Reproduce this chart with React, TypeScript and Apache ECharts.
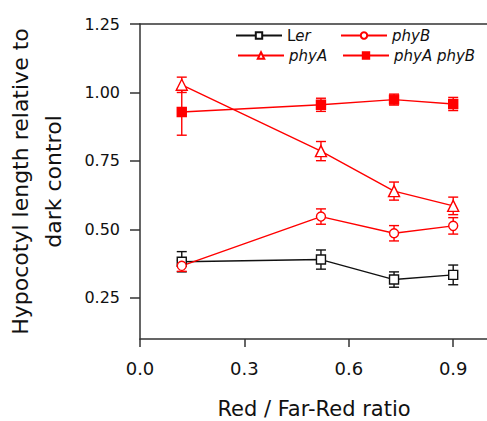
import React, { useEffect, useRef } from "react";
import * as echarts from "echarts";

const xValues = [0.12, 0.52, 0.73, 0.9];
const xTicks = [0, 0.3, 0.6, 0.9];
const yTicks = [0.25, 0.5, 0.75, 1.0, 1.25];

const seriesNames = ["Ler", "phyB", "phyA", "phyA phyB"];
const lerValues = [0.382, 0.39, 0.317, 0.334];
const lerErrors = [0.037, 0.035, 0.028, 0.036];
const phyBValues = [0.367, 0.547, 0.486, 0.513];
const phyBErrors = [0.02, 0.028, 0.028, 0.03];
const phyAValues = [1.028, 0.786, 0.64, 0.586];
const phyAErrors = [0.028, 0.035, 0.033, 0.032];
const phyABValues = [0.929, 0.955, 0.974, 0.958];
const phyABErrors = [0.085, 0.024, 0.02, 0.024];

const FONT = "DejaVu Sans";
const RED = "#ff0000";
const BLACK = "#111111";
const AXIS = "#333333";

type SDef = {
  name: string;
  values: number[];
  errors: number[];
  color: string;
  symbol: string;
  fill: string;
};

const defs: SDef[] = [
  { name: seriesNames[0], values: lerValues, errors: lerErrors, color: BLACK, symbol: "rect", fill: "#ffffff" },
  { name: seriesNames[1], values: phyBValues, errors: phyBErrors, color: RED, symbol: "circle", fill: "#ffffff" },
  { name: seriesNames[2], values: phyAValues, errors: phyAErrors, color: RED, symbol: "triangle", fill: "#ffffff" },
  { name: seriesNames[3], values: phyABValues, errors: phyABErrors, color: RED, symbol: "rect", fill: RED },
];

function errorBarSeries(d: SDef) {
  return {
    type: "custom",
    name: d.name + " err",
    z: 1,
    silent: true,
    data: xValues.map((x, i) => [x, d.values[i] - d.errors[i], d.values[i] + d.errors[i]]),
    encode: { x: 0, y: [1, 2] },
    renderItem: (params: any, api: any) => {
      const x = api.value(0);
      const lo = api.coord([x, api.value(1)]);
      const hi = api.coord([x, api.value(2)]);
      const cap = 5;
      const style = { stroke: d.color, lineWidth: 1.4, fill: "none" };
      return {
        type: "group",
        children: [
          { type: "line", shape: { x1: lo[0], y1: lo[1], x2: hi[0], y2: hi[1] }, style },
          { type: "line", shape: { x1: lo[0] - cap, y1: lo[1], x2: lo[0] + cap, y2: lo[1] }, style },
          { type: "line", shape: { x1: hi[0] - cap, y1: hi[1], x2: hi[0] + cap, y2: hi[1] }, style },
        ],
      };
    },
  };
}

function lineSeries(d: SDef) {
  return {
    type: "line",
    name: d.name,
    z: 3,
    data: xValues.map((x, i) => [x, d.values[i]]),
    symbol: d.symbol,
    symbolSize: d.symbol === "triangle" ? 11 : 9,
    showAllSymbol: true,
    lineStyle: { color: d.color, width: 1.4 },
    itemStyle: { color: d.fill, borderColor: d.color, borderWidth: 1.4 },
    emphasis: { disabled: true },
  };
}

const legendPos = [
  { left: 235, top: 28 },
  { left: 340, top: 28 },
  { left: 237, top: 48 },
  { left: 342, top: 48 },
];

export default function App() {
  const ref = useRef<HTMLDivElement>(null);
  useEffect(() => {
    if (!ref.current) return;
    const chart = echarts.init(ref.current, undefined, { renderer: "svg" });
    const option: any = {
      animation: false,
      backgroundColor: "#ffffff",
      textStyle: { fontFamily: FONT },
      grid: { left: 140, top: 24, right: -1, bottom: 82, outerBoundsMode: "none" },
      legend: defs.map((d, i) => ({
        data: [d.name],
        left: legendPos[i].left,
        top: legendPos[i].top,
        padding: 0,
        itemWidth: 46,
        itemHeight: 8,
        itemGap: 5,
        selectedMode: false,
        formatter: (name: string) =>
          name === "Ler" ? "{n|L}{i|er}" : "{i|" + name + "}",
        textStyle: {
          fontFamily: FONT,
          fontSize: 15,
          color: "#111",
          rich: {
            n: { fontFamily: FONT, fontSize: 15, color: "#111" },
            i: { fontFamily: FONT, fontSize: 15, fontStyle: "italic", color: "#111" },
          },
        },
      })),
      xAxis: [
        {
          type: "value",
          min: 0,
          max: 1.0,
          name: "Red / Far-Red ratio",
          nameLocation: "middle",
          nameGap: 59,
          nameTextStyle: { fontFamily: FONT, fontSize: 21, color: "#111" },
          axisLine: { show: true, onZero: false, lineStyle: { color: AXIS, width: 1.5 } },
          axisTick: { show: true, inside: false, length: 8, customValues: xTicks, lineStyle: { color: AXIS, width: 1.5 } },
          axisLabel: {
            customValues: xTicks,
            margin: 20,
            fontFamily: FONT,
            fontSize: 18,
            color: "#111",
            formatter: (v: number) => v.toFixed(1),
          },
          splitLine: { show: false },
        },
        {
          type: "value",
          position: "top",
          min: 0,
          max: 1.0,
          axisLine: { show: true, onZero: false, lineStyle: { color: AXIS, width: 1.5 } },
          axisTick: { show: false },
          axisLabel: { show: false },
          splitLine: { show: false },
        },
      ],
      yAxis: {
        type: "value",
        min: 0.1,
        max: 1.25,
        name: "Hypocotyl length relative to\ndark control",
        nameLocation: "middle",
        nameGap: 70,
        nameTextStyle: { fontFamily: FONT, fontSize: 22, color: "#111", lineHeight: 33, align: "center" },
        axisLine: { show: true, onZero: false, lineStyle: { color: AXIS, width: 1.5 } },
        axisTick: { show: true, inside: false, length: 10, customValues: yTicks, lineStyle: { color: AXIS, width: 1.5 } },
        axisLabel: {
          customValues: yTicks,
          margin: 20,
          fontFamily: FONT,
          fontSize: 16,
          color: "#111",
          formatter: (v: number) => v.toFixed(2),
        },
        splitLine: { show: false },
      },
      series: [...defs.map(errorBarSeries), ...defs.map(lineSeries)],
    };
    chart.setOption(option);
    return () => chart.dispose();
  }, []);
  return (
    <div
      ref={ref}
      style={{ position: "absolute", left: 0, top: 0, width: 487, height: 421 }}
    />
  );
}
